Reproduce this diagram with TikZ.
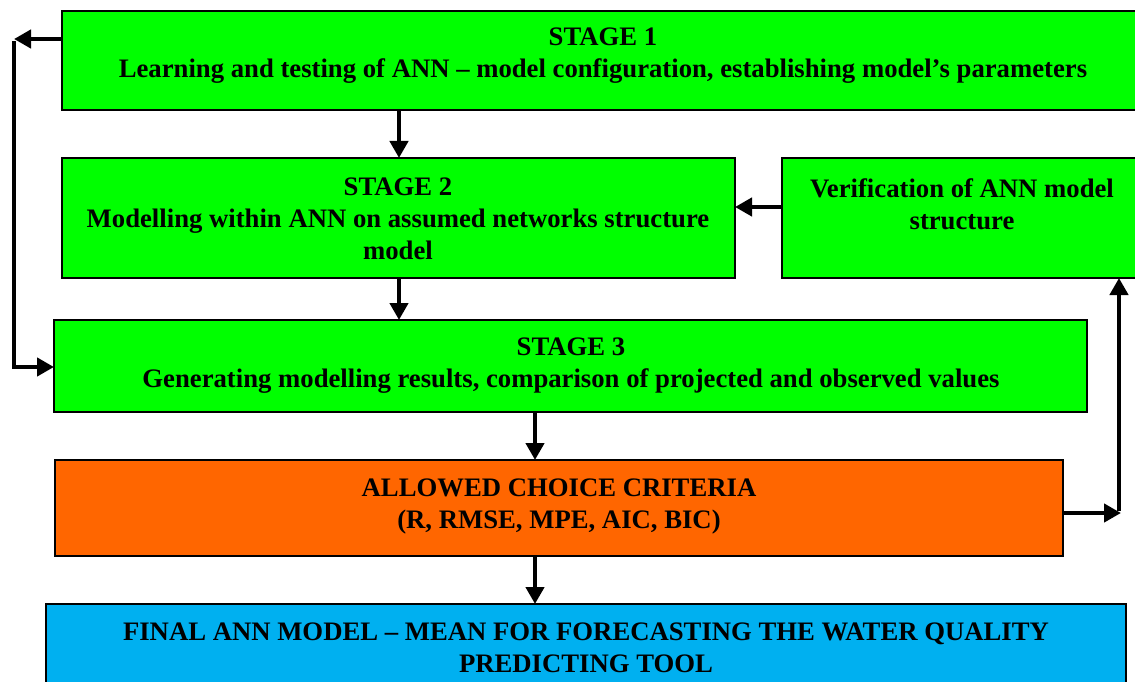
\documentclass[tikz,border=0pt]{standalone}
\usepackage{fontspec}
\setmainfont{Liberation Serif}
\usetikzlibrary{arrows.meta}
\definecolor{cgreen}{HTML}{00FF00}
\definecolor{corange}{HTML}{FF6600}
\definecolor{cblue}{HTML}{00B0F0}
\tikzset{
  box/.style={draw=black, line width=2.5pt, rectangle, inner sep=0pt, outer sep=0pt, anchor=north west},
  txt/.style={align=center, inner sep=0pt, font=\fontsize{26.7}{32}\selectfont\bfseries},
  arr/.style={line width=4.5pt, -{Triangle[length=17pt,width=18pt]}},
  ln/.style={line width=4.5pt}
}
\begin{document}
\begin{tikzpicture}[x=1pt,y=-1pt]
\useasboundingbox (0,0) rectangle (1135,682);
\clip (0,0) rectangle (1135,682);
\fill[white] (0,0) rectangle (1135,682);
% boxes
\node[box, fill=cgreen, minimum width=1090pt, minimum height=99pt] (s1) at (62,11) {};
\node[box, fill=cgreen, minimum width=673pt, minimum height=120pt] (s2) at (62,158) {};
\node[box, fill=cgreen, minimum width=370pt, minimum height=120pt] (ver) at (782,158) {};
\node[box, fill=cgreen, minimum width=1033pt, minimum height=92pt] (s3) at (54,320) {};
\node[box, fill=corange, minimum width=1008pt, minimum height=96pt] (crit) at (55,460) {};
\node[box, fill=cblue, minimum width=1080pt, minimum height=110pt] (fin) at (46,604) {};
% texts
\node[txt] (t1) at (603,56) {STAGE 1\\Learning and testing of ANN -- model configuration, establishing model's parameters};
\node[txt] (t2) at (398,219) {STAGE 2\\Modelling within ANN on assumed networks structure\\model};
\node[txt] (tv) at (962,204) {Verification of ANN model\\structure};
\node[txt] (t3) at (571,366) {STAGE 3\\Generating modelling results, comparison of projected and observed values};
\node[txt] (tc) at (559,506) {ALLOWED CHOICE CRITERIA\\(R, RMSE, MPE, AIC, BIC)};
\node[txt] (tf) at (586,648) {FINAL ANN MODEL -- MEAN FOR FORECASTING THE WATER QUALITY\\PREDICTING TOOL};
% coordinates for the loops
\coordinate (cl1) at (14,39);
\coordinate (cl2) at (14,367);
\coordinate (cr1) at (1119,513);
% connectors
\draw[arr] (s1.west |- cl1) -- (cl1);
\draw[ln] ([yshift=-2pt]cl1) -- (cl2);
\draw[arr] ([xshift=-2pt]cl2) -- (s3.west |- cl2);
\draw[arr] (s1.south -| 399,0) -- (s2.north -| 399,0);
\draw[arr] (s2.south -| 399,0) -- (s3.north -| 399,0);
\draw[arr] (ver.west |- 0,207) -- (s2.east |- 0,207);
\draw[arr] (s3.south -| 535,0) -- (crit.north -| 535,0);
\draw[arr] (crit.south -| 535,0) -- (fin.north -| 535,0);
\draw[arr] (crit.east |- cr1) -- ([xshift=2pt]cr1);
\draw[arr] ([yshift=2pt]cr1) -- (ver.south -| cr1);
\end{tikzpicture}
\end{document}
